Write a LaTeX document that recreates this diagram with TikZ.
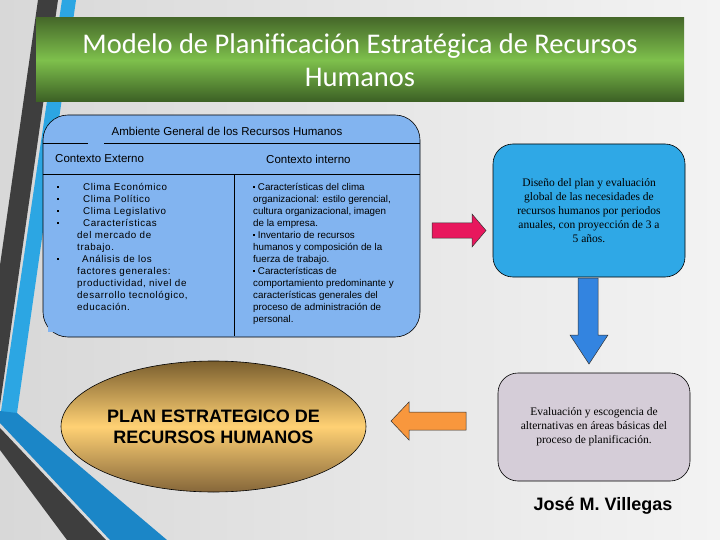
\documentclass[tikz,border=0pt]{standalone}
\usepackage{fontspec}
\setmainfont{Liberation Sans}
\newfontfamily\ttlfont{Carlito}
\newfontfamily\tnrfont{Liberation Serif}
\newfontfamily\spacedfont[LetterSpace=6]{Liberation Sans}
\usetikzlibrary{shapes.geometric}
\definecolor{bgleft}{HTML}{D8D8D8}
\definecolor{bgright}{HTML}{F3F3F3}
\definecolor{bandgray}{HTML}{3E3E3E}
\definecolor{bandblueA}{HTML}{2CA6E3}
\definecolor{bandblueB}{HTML}{1B86C7}
\definecolor{grTop}{HTML}{46692A}
\definecolor{grMid}{HTML}{7EC04C}
\definecolor{grBot}{HTML}{3B5F24}
\definecolor{envblue}{HTML}{82B4F0}
\definecolor{disblue}{HTML}{2FA8E6}
\definecolor{evalgray}{HTML}{D5CDD8}
\definecolor{pinkarr}{HTML}{E8175D}
\definecolor{bluearr}{HTML}{3384E0}
\definecolor{orangearr}{HTML}{F8973D}
\definecolor{goldTop}{HTML}{7A5E2E}
\definecolor{goldMid}{HTML}{FFD174}
\definecolor{goldBot}{HTML}{86673A}
\newcommand\sqbul{\rule[2.5pt]{2pt}{2pt}}
\begin{document}
\begin{tikzpicture}[x=1pt,y=-1pt,
  envtxt/.style={font=\fontsize{11.5}{14}\selectfont},
  listtxt/.style={font=\fontsize{9.8}{12}\selectfont, align=left, inner sep=0pt},
  serifbox/.style={draw=black, line width=0.6pt, rounded corners=20pt, font=\tnrfont\fontsize{11.5}{14}\selectfont, align=center},
  arrowshape/.style={draw=black!80, line width=0.5pt}
]
\useasboundingbox (0,0) rectangle (720,540);
% background
\fill[left color=bgleft, right color=bgright] (0,0) rectangle (720,540);
% decorative bands
\fill[bandgray] (38,0) -- (58,0) -- (0,405) -- (0,265) -- cycle;
\fill[bandblueA] (62,0) -- (76,0) -- (17,413) -- (0,413) -- (0,418) -- cycle;
\fill[bandblueB] (0,411) -- (17,413) -- (167,540) -- (110,540) -- (0,423) -- cycle;
\fill[bandgray] (0,428) -- (106,540) -- (67,540) -- (0,450) -- cycle;
% title bar
\node[minimum width=648pt, minimum height=84pt, inner sep=0pt,
  top color=grTop, bottom color=grBot, middle color=grMid,
  text=white, align=center, font=\ttlfont\fontsize{28.5}{33}\selectfont]
  (title) at (360,60) {Modelo de Planificación Estratégica de Recursos\\Humanos};
% environment box
\node[draw=black, line width=0.6pt, fill=envblue, rounded corners=25pt,
  minimum width=377pt, minimum height=222pt, inner sep=0pt] (env) at (231.5,226) {};
\fill[envblue] (48,300) rectangle (72,332);
\draw[line width=0.6pt] (env.west |- 0,143) -- (88,143);
\draw[line width=0.6pt] (104,143) -- (env.east |- 0,143);
\draw[line width=0.6pt] (env.west |- 0,174) -- (env.east |- 0,174);
\draw[line width=0.6pt] (234,174) -- (234,336);
\node[envtxt] (envtitle) at (227,131) {Ambiente General de los Recursos Humanos};
\node[envtxt, anchor=west, inner sep=0pt] (ctxext) at (55,159) {Contexto Externo};
\node[envtxt, anchor=west, inner sep=0pt] (ctxint) at (266,159) {Contexto interno};
\node[listtxt, anchor=north west, font=\spacedfont\fontsize{9.8}{12}\selectfont] (extlist) at (77,183) {%
\llap{\sqbul\hspace{18pt}}\hspace{6pt}Clima Económico\\
\llap{\sqbul\hspace{18pt}}\hspace{6pt}Clima Político\\
\llap{\sqbul\hspace{18pt}}\hspace{6pt}Clima Legislativo\\
\llap{\sqbul\hspace{18pt}}\hspace{6pt}Características\\
del mercado de\\
trabajo.\\
\llap{\sqbul\hspace{18pt}}\hspace{5pt}Análisis de los\\
factores generales:\\
productividad, nivel de\\
desarrollo tecnológico,\\
educación.};
\node[listtxt, anchor=north west] (intlist) at (253,183) {%
\sqbul{} Características del clima\\
organizacional: estilo gerencial,\\
cultura organizacional, imagen\\
de la empresa.\\
\sqbul{} Inventario de recursos\\
humanos y composición de la\\
fuerza de trabajo.\\
\sqbul{} Características de\\
comportamiento predominante y\\
características generales del\\
proceso de administración de\\
personal.};
% design box
\node[serifbox, fill=disblue, minimum width=192pt, minimum height=133pt] (dis) at (589,210.5)
  {Diseño del plan y evaluación\\global de las necesidades de\\recursos humanos por periodos\\anuales, con proyección de 3 a\\5 años.};
% evaluation box
\node[serifbox, fill=evalgray, minimum width=192pt, minimum height=108pt] (eval) at (594,427)
  {Evaluación y escogencia de\\alternativas en áreas básicas del\\proceso de planificación.};
% plan ellipse
\node[ellipse, draw=black, line width=0.6pt, minimum width=305pt, minimum height=131pt, inner sep=0pt,
  top color=goldTop, bottom color=goldBot, middle color=goldMid,
  font=\bfseries\fontsize{18}{21}\selectfont, align=center] (plan) at (213.5,426.5)
  {PLAN ESTRATEGICO DE\\RECURSOS HUMANOS};
% block arrows
\draw[arrowshape, fill=pinkarr] (432,223) -- (472,223) -- (472,214) -- (486,230.5) -- (472,247) -- (472,238) -- (432,238) -- cycle;
\draw[arrowshape, fill=bluearr] (578,278) -- (598,278) -- (598,335) -- (608,335) -- (589,364) -- (570,335) -- (578,335) -- cycle;
\draw[arrowshape, fill=orangearr] (466,412) -- (409,412) -- (409,402) -- (391,421) -- (409,440) -- (409,430) -- (466,430) -- cycle;
% author
\node[font=\bfseries\fontsize{18}{21}\selectfont] (author) at (603,506) {José M. Villegas};
\end{tikzpicture}
\end{document}
